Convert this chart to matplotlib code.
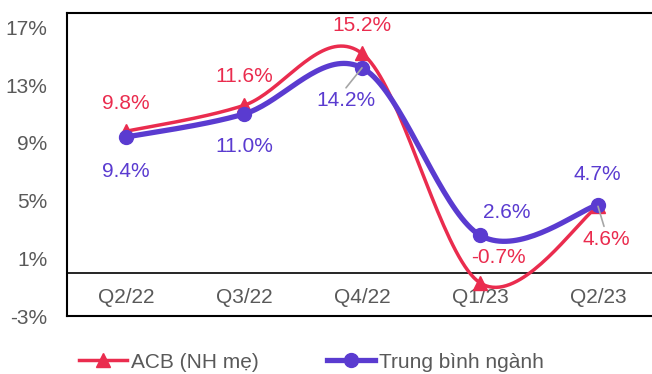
import numpy as np
import matplotlib.pyplot as plt
from matplotlib.lines import Line2D

plt.rcParams['font.family'] = ['Liberation Sans', 'DejaVu Sans']

quarters = ['Q2/22', 'Q3/22', 'Q4/22', 'Q1/23', 'Q2/23']
acb = [9.8, 11.6, 15.2, -0.7, 4.6]
industry = [9.4, 11.0, 14.2, 2.6, 4.7]

red = '#EA2C4E'
purple = '#5A3BD0'
grey_text = '#595959'

# label offsets in pixels (dx, dy) for each point
acb_off = [(0, 28), (0, 29), (0, 28), (18, 25), (8, -33)]
ind_off = [(0, -34), (0, -32), (-16, -33), (27, 23), (-1, 30)]


def smooth(x, y, n=40):
    # bezier smoothing through every point, like spreadsheet "smoothed line"
    p = np.column_stack([x, y]).astype(float)
    out = []
    for i in range(len(p) - 1):
        p0 = p[i - 1] if i > 0 else p[i]
        p3 = p[i + 2] if i + 2 < len(p) else p[i + 1]
        c1 = p[i] + (p[i + 1] - p0) / 6
        c2 = p[i + 1] - (p3 - p[i]) / 6
        t = np.linspace(0, 1, n)[:, None]
        seg = ((1 - t) ** 3 * p[i] + 3 * (1 - t) ** 2 * t * c1
               + 3 * (1 - t) * t ** 2 * c2 + t ** 3 * p[i + 1])
        out.append(seg if i == 0 else seg[1:])
    out = np.vstack(out)
    return out[:, 0], out[:, 1]


fig = plt.figure(figsize=(6.52, 3.74), dpi=100)
ax = fig.add_axes([67 / 652, 1 - 316 / 374, 590 / 652, 303 / 374])

xs = np.arange(len(quarters))
sx, sy = smooth(xs, acb)
ax.plot(sx, sy, color=red, lw=2.5, zorder=3, solid_capstyle='round')
ax.plot(xs, acb, '^', color=red, ms=10, zorder=4)
sx, sy = smooth(xs, industry)
ax.plot(sx, sy, color=purple, lw=3.8, zorder=5, solid_capstyle='round')
ax.plot(xs, industry, 'o', color=purple, ms=10, zorder=6)

fs = 15
for i, v in enumerate(acb):
    ax.annotate(f'{v:.1f}%', (xs[i], v), xytext=acb_off[i], textcoords='offset pixels',
                ha='center', va='center', color=red, fontsize=fs, zorder=7)
for i, v in enumerate(industry):
    ax.annotate(f'{v:.1f}%', (xs[i], v), xytext=ind_off[i], textcoords='offset pixels',
                ha='center', va='center', color=purple, fontsize=fs, zorder=7)

# leader lines for the labels that sit away from their markers
ax.annotate('', (xs[2], industry[2]), xytext=(-16, -20), textcoords='offset pixels',
            arrowprops=dict(arrowstyle='-', color='#A6A6A6', lw=1.2, shrinkA=0, shrinkB=0), zorder=7)
ax.annotate('', (xs[4], acb[4]), xytext=(6, -20), textcoords='offset pixels',
            arrowprops=dict(arrowstyle='-', color='#A6A6A6', lw=1.2, shrinkA=0, shrinkB=0), zorder=7)

ax.axhline(0, color='black', lw=1.2, zorder=2)

ax.set_xlim(-0.5, 4.5)
ax.set_ylim(-3, 18)
ax.set_yticks(np.arange(-3, 18, 4))
ax.set_yticklabels([f'{t}%' for t in range(-3, 18, 4)])
ax.tick_params(axis='y', length=0, pad=14, labelsize=fs, labelcolor=grey_text)
ax.set_xticks([])
for i, q in enumerate(quarters):
    ax.text(xs[i], -1.7, q, ha='center', va='center', fontsize=fs, color=grey_text)

for side in ['left', 'top', 'bottom']:
    ax.spines[side].set_linewidth(1.5)
ax.spines['right'].set_visible(False)

handles = [
    Line2D([], [], color=red, lw=2.5, marker='^', ms=10),
    Line2D([], [], color=purple, lw=3.8, marker='o', ms=10),
]
fig.legend(handles, ['ACB (NH mẹ)', 'Trung bình ngành'], loc='center left',
           bbox_to_anchor=(60 / 652, 1 - 362 / 374), ncol=2, frameon=False,
           fontsize=fs, handlelength=2.3, handletextpad=0.2, columnspacing=3.3,
           labelcolor=grey_text)

fig.savefig('out.png', dpi=100)
